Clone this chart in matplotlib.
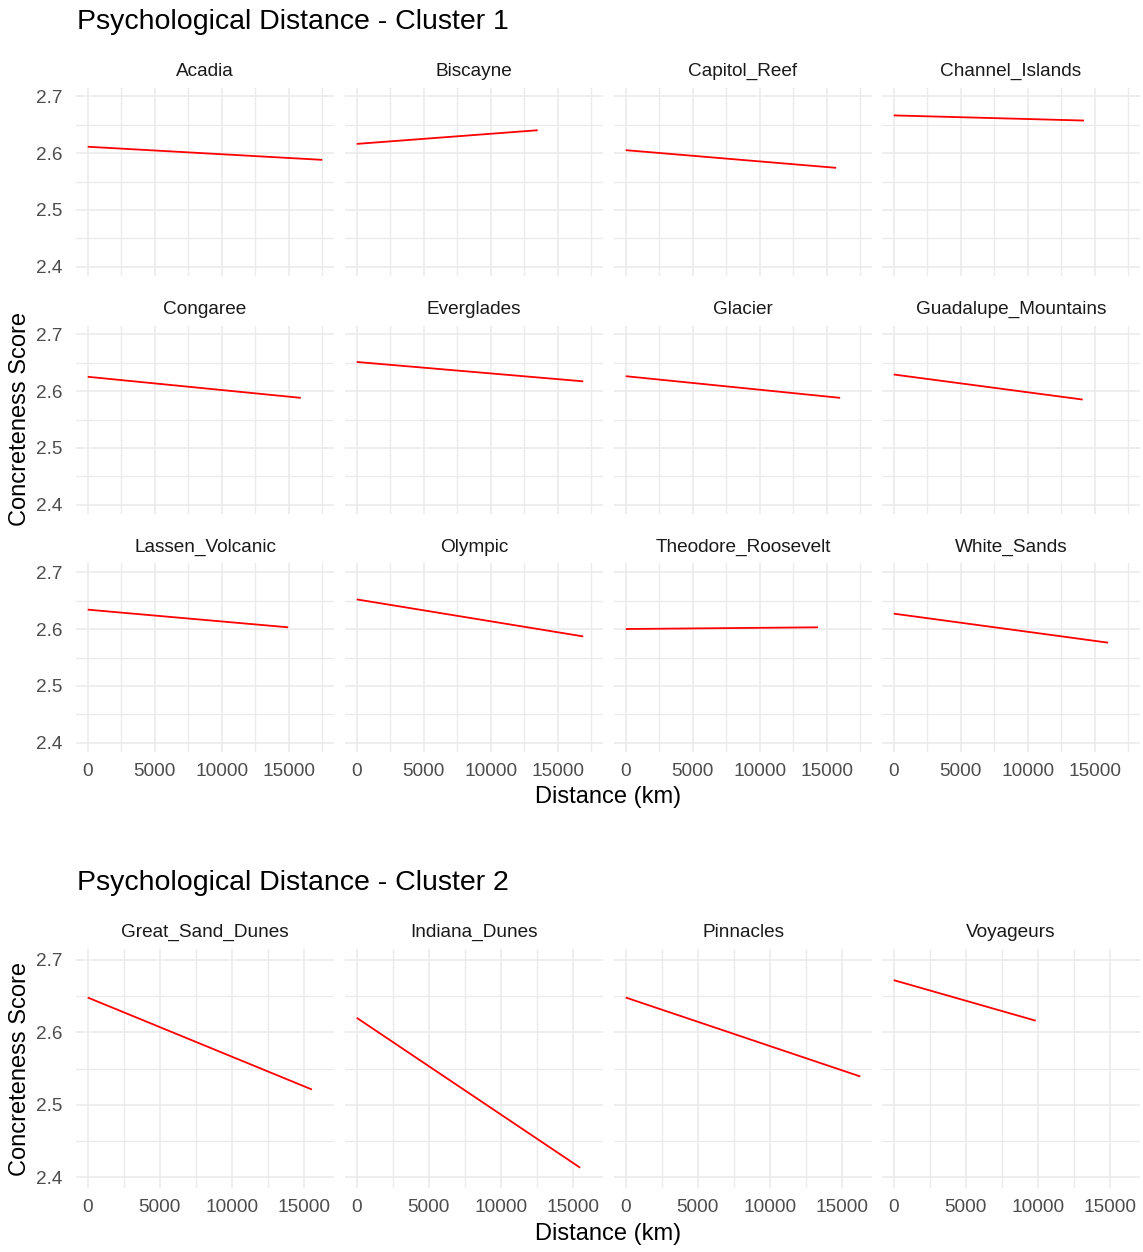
import matplotlib
matplotlib.use('agg')  # non-interactive backend
import matplotlib.pyplot as plt
import numpy as np

W, H = 1143, 1252

# fitted concreteness lines per park: start at 0 km, end at the park's max distance
cluster1_parks = ['Acadia', 'Biscayne', 'Capitol_Reef', 'Channel_Islands',
                  'Congaree', 'Everglades', 'Glacier', 'Guadalupe_Mountains',
                  'Lassen_Volcanic', 'Olympic', 'Theodore_Roosevelt', 'White_Sands']
cluster1_max_km = [17500, 13500, 15700, 14200,
                   15900, 16900, 16000, 14100,
                   14950, 16900, 14350, 16000]
cluster1_score_start = [2.611, 2.616, 2.605, 2.666,
                        2.625, 2.651, 2.626, 2.629,
                        2.634, 2.652, 2.600, 2.627]
cluster1_score_end = [2.588, 2.640, 2.574, 2.657,
                      2.588, 2.617, 2.588, 2.585,
                      2.603, 2.587, 2.603, 2.576]

cluster2_parks = ['Great_Sand_Dunes', 'Indiana_Dunes', 'Pinnacles', 'Voyageurs']
cluster2_max_km = [15550, 15500, 16270, 9850]
cluster2_score_start = [2.648, 2.620, 2.648, 2.672]
cluster2_score_end = [2.521, 2.413, 2.539, 2.616]

x_breaks = [0, 5000, 10000, 15000]
y_breaks = [2.4, 2.5, 2.6, 2.7]
y_limits = (2.4, 2.7)

plt.rcParams['font.family'] = ['Liberation Sans', 'DejaVu Sans']

GRID = '#EBEBEB'
fig = plt.figure(figsize=(W / 100, H / 100), dpi=100)

col_left = [76, 345, 614, 882]
col_w = 258


def px_axes(left, top, width, height):
    return fig.add_axes([left / W, 1 - (top + height) / H, width / W, height / H])


def fig_text(x, y, s, **kw):
    fig.text(x / W, 1 - y / H, s, **kw)


def expand(lo, hi, f=0.05):
    d = (hi - lo) * f
    return lo - d, hi + d


def draw_cluster(title, parks, max_km, s0, s1, row_tops, row_h, title_y):
    xmax = max(max_km)
    xlim = expand(0, xmax)
    ylim = expand(*y_limits)
    x_minor = [v for v in np.arange(2500, xlim[1], 5000)]
    y_minor = [2.45, 2.55, 2.65]
    nrows = len(row_tops)
    for i, park in enumerate(parks):
        r, c = divmod(i, 4)
        ax = px_axes(col_left[c], row_tops[r], col_w, row_h)
        ax.plot([0, max_km[i]], [s0[i], s1[i]], color='red', lw=1.3,
                solid_capstyle='butt')
        ax.set_xlim(*xlim)
        ax.set_ylim(*ylim)
        ax.set_xticks(x_breaks)
        ax.set_xticks(x_minor, minor=True)
        ax.set_yticks(y_breaks)
        ax.set_yticks(y_minor, minor=True)
        ax.grid(which='major', color=GRID, lw=1.2)
        ax.grid(which='minor', color=GRID, lw=1.0)
        ax.set_axisbelow(True)
        for sp in ax.spines.values():
            sp.set_visible(False)
        ax.tick_params(which='both', length=0, labelsize=13.7,
                       labelcolor='#4D4D4D')
        ax.tick_params(axis='x', pad=8)
        ax.tick_params(axis='y', pad=10)
        if r != nrows - 1:
            ax.set_xticklabels([])
        if c != 0:
            ax.set_yticklabels([])
        else:
            ax.set_yticklabels([f'{v:.1f}' for v in y_breaks])
        # facet strip label
        fig_text(col_left[c] + col_w / 2, row_tops[r] - 12, park,
                 ha='center', va='baseline', fontsize=13.7, color='#1A1A1A')

    top = row_tops[0]
    bottom = row_tops[-1] + row_h
    fig_text(col_left[0] + 1, title_y, title, ha='left', va='center',
             fontsize=20.5, color='black')
    fig_text(20, (top + bottom) / 2, 'Concreteness Score', rotation=90,
             ha='center', va='center', fontsize=17, color='black')
    fig_text((col_left[0] + col_left[3] + col_w) / 2, bottom + 46,
             'Distance (km)', ha='center', va='center', fontsize=17,
             color='black')


draw_cluster('Psychological Distance - Cluster 1', cluster1_parks,
             cluster1_max_km, cluster1_score_start, cluster1_score_end,
             [87.5, 325.5, 563.5], 188, 22)
draw_cluster('Psychological Distance - Cluster 2', cluster2_parks,
             cluster2_max_km, cluster2_score_start, cluster2_score_end,
             [949], 239, 883)

fig.savefig('out.png', dpi=100, facecolor='white')
